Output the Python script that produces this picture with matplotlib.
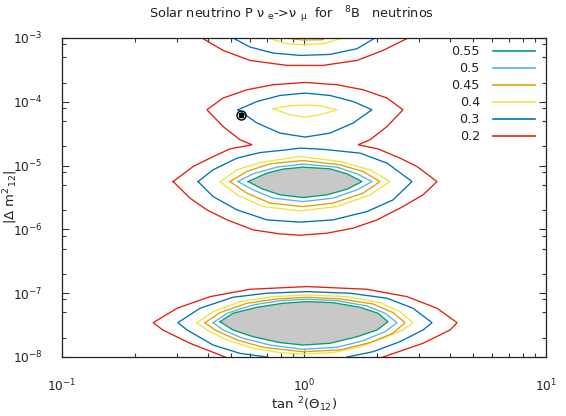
import matplotlib
matplotlib.use('Agg')
import matplotlib.pyplot as plt
from matplotlib.ticker import LogLocator, NullFormatter, FixedLocator, FixedFormatter

plt.rcParams['font.family'] = ['DejaVu Sans']
plt.rcParams['mathtext.fontset'] = 'dejavusans'

# ---------------- data ----------------
level_labels = ['0.55', '0.5', '0.45', '0.4', '0.3', '0.2']
level_colors = ['#009e73', '#56b4e9', '#e69f00', '#f0e442', '#0072b2', '#e51e10']

# P = 0.2 contours
red_top_x = [0.379, 0.463, 0.598, 0.851, 1.198, 1.656, 2.121, 2.691]
red_top_y = [1.0e-3, 6.39e-4, 4.45e-4, 3.72e-4, 3.72e-4, 4.45e-4, 6.39e-4, 1.0e-3]
red_mid_x = [0.288, 0.348, 0.409, 0.494, 0.610, 0.544, 0.463, 0.397, 0.463, 0.581,
             0.745, 1.01, 1.369, 1.754, 2.203, 2.565, 2.203, 1.874, 1.672, 2.022,
             2.493, 2.93, 3.545, 3.103, 2.493, 2.003, 1.594, 1.245, 0.963, 0.796,
             0.616, 0.481, 0.397, 0.338, 0.288]
red_mid_y = [5.62e-6, 9.67e-6, 1.31e-5, 1.83e-5, 2.12e-5, 2.54e-5, 4.10e-5, 7.50e-5,
             1.145e-4, 1.545e-4, 1.85e-4, 2.01e-4, 1.85e-4, 1.545e-4, 1.145e-4, 7.50e-5,
             4.10e-5, 2.54e-5, 2.12e-5, 1.83e-5, 1.31e-5, 9.67e-6, 5.62e-6, 3.48e-6,
             2.15e-6, 1.41e-6, 1.045e-6, 8.72e-7, 8.11e-7, 8.51e-7, 9.83e-7, 1.41e-6,
             2.02e-6, 3.09e-6, 5.62e-6]
red_low_x = [0.472, 0.338, 0.261, 0.238, 0.299, 0.409, 0.598, 1.029, 1.821, 2.665,
             3.545, 4.29, 4.01, 3.103, 2.121]
red_low_y = [1.0e-8, 1.64e-8, 2.65e-8, 3.45e-8, 5.81e-8, 8.83e-8, 1.153e-7, 1.27e-7,
             1.153e-7, 8.83e-8, 5.81e-8, 3.45e-8, 2.65e-8, 1.64e-8, 1.0e-8]

# P = 0.3 contours
blue_top_x = [0.509, 0.598, 0.745, 0.963, 1.280, 1.656, 1.965]
blue_top_y = [1.0e-3, 7.22e-4, 5.81e-4, 5.33e-4, 5.53e-4, 6.80e-4, 1.0e-3]
blue_up_x = [0.534, 0.640, 0.796, 1.01, 1.280, 1.594, 1.910, 1.594, 1.280, 1.01,
             0.796, 0.640, 0.534]
blue_up_y = [7.50e-5, 1.012e-4, 1.257e-4, 1.37e-4, 1.257e-4, 1.012e-4, 7.50e-5,
             4.64e-5, 3.23e-5, 2.80e-5, 3.23e-5, 4.64e-5, 7.50e-5]
blue_mid_x = [0.365, 0.421, 0.529, 0.658, 0.851, 0.963, 1.198, 1.703, 2.203, 2.795,
              2.332, 1.821, 1.318, 0.963, 0.703, 0.529, 0.421, 0.365]
blue_mid_y = [5.62e-6, 8.59e-6, 1.31e-5, 1.60e-5, 1.77e-5, 1.88e-5, 1.80e-5, 1.57e-5,
              1.094e-5, 5.62e-6, 2.90e-6, 1.905e-6, 1.41e-6, 1.30e-6, 1.41e-6, 2.02e-6,
              3.27e-6, 5.62e-6]
blue_low_x = [0.703, 0.544, 0.421, 0.329, 0.301, 0.372, 0.509, 0.703, 1.029, 1.549,
              2.203, 2.82, 3.381, 3.103, 2.493, 1.928, 1.506]
blue_low_y = [1.0e-8, 1.14e-8, 1.54e-8, 2.65e-8, 3.45e-8, 5.81e-8, 8.65e-8, 9.99e-8,
              1.058e-7, 9.99e-8, 8.34e-8, 5.81e-8, 3.45e-8, 2.65e-8, 1.74e-8, 1.21e-8,
              1.0e-8]

# P = 0.4 contours
yel_top_x = [0.710, 0.851, 0.991, 1.198, 1.449]
yel_top_y = [1.0e-3, 8.14e-4, 7.85e-4, 8.14e-4, 1.0e-3]
yel_up_x = [0.745, 0.875, 1.01, 1.164, 1.369, 1.164, 1.01, 0.875, 0.745]
yel_up_y = [7.78e-5, 8.67e-5, 8.89e-5, 8.67e-5, 7.50e-5, 6.26e-5, 5.77e-5, 6.26e-5, 7.78e-5]
yel_mid_x = [0.450, 0.529, 0.658, 0.963, 1.409, 1.874, 2.266, 1.874, 1.369, 0.963,
             0.677, 0.529, 0.450]
yel_mid_y = [5.62e-6, 8.59e-6, 1.117e-5, 1.39e-5, 1.16e-5, 8.59e-6, 5.62e-6, 3.48e-6,
             2.28e-6, 1.95e-6, 2.28e-6, 3.48e-6, 5.62e-6]
yel_low_x = [0.361, 0.421, 0.544, 0.745, 1.029, 1.506, 2.061, 2.493, 2.82, 2.565,
             2.121, 1.703, 1.318, 0.991, 0.796, 0.616, 0.481, 0.397, 0.361]
yel_low_y = [3.45e-8, 5.14e-8, 7.38e-8, 8.83e-8, 9.40e-8, 8.83e-8, 7.11e-8, 5.14e-8,
             3.45e-8, 2.65e-8, 1.965e-8, 1.45e-8, 1.17e-8, 1.11e-8, 1.17e-8, 1.37e-8,
             1.85e-8, 2.65e-8, 3.45e-8]

# P = 0.45 contours
ora_top_x = [0.835, 0.991, 1.198, 1.22]
ora_top_y = [1.0e-3, 9.3e-4, 9.4e-4, 1.0e-3]
ora_mid_x = [0.494, 0.581, 0.724, 0.991, 1.409, 1.754, 2.061, 1.754, 1.318, 0.991,
             0.724, 0.581, 0.494]
ora_mid_y = [5.62e-6, 8.08e-6, 1.067e-5, 1.20e-5, 1.028e-5, 8.08e-6, 5.62e-6, 3.70e-6,
             2.58e-6, 2.28e-6, 2.58e-6, 3.70e-6, 5.62e-6]
ora_low_x = [0.390, 0.450, 0.581, 0.773, 1.029, 1.409, 1.928, 2.332, 2.615, 2.332,
             1.874, 1.409, 0.991, 0.677, 0.529, 0.429, 0.390]
ora_low_y = [3.45e-8, 4.96e-8, 6.96e-8, 8.13e-8, 8.65e-8, 8.13e-8, 6.78e-8, 4.96e-8,
             3.45e-8, 2.36e-8, 1.68e-8, 1.29e-8, 1.21e-8, 1.42e-8, 1.85e-8, 2.65e-8,
             3.45e-8]

# P = 0.5 contours
sky_mid_x = [0.534, 0.616, 0.773, 0.991, 1.369, 1.656, 1.910, 1.656, 1.318, 0.991,
             0.745, 0.616, 0.534]
sky_mid_y = [5.62e-6, 7.43e-6, 9.46e-6, 1.055e-5, 9.46e-6, 7.43e-6, 5.62e-6, 4.17e-6,
             3.09e-6, 2.73e-6, 3.09e-6, 4.17e-6, 5.62e-6]
sky_low_x = [0.421, 0.481, 0.616, 0.796, 1.029, 1.369, 1.821, 2.161, 2.423, 2.161,
             1.754, 1.369, 0.991, 0.724, 0.560, 0.463, 0.421]
sky_low_y = [3.45e-8, 4.85e-8, 6.54e-8, 7.64e-8, 8.04e-8, 7.64e-8, 6.31e-8, 4.85e-8,
             3.45e-8, 2.49e-8, 1.80e-8, 1.42e-8, 1.32e-8, 1.54e-8, 1.965e-8, 2.65e-8,
             3.45e-8]

# P = 0.55 contours (inside shaded)
grn_mid_x = [0.587, 0.703, 0.819, 0.991, 1.280, 1.506, 1.737, 1.506, 1.245, 0.991,
             0.796, 0.677, 0.587]
grn_mid_y = [5.62e-6, 7.62e-6, 8.81e-6, 9.46e-6, 8.90e-6, 7.43e-6, 5.62e-6, 4.27e-6,
             3.48e-6, 3.16e-6, 3.48e-6, 4.27e-6, 5.62e-6]
grn_low_x = [0.450, 0.509, 0.640, 0.819, 1.029, 1.318, 1.703, 2.022, 2.224, 2.003,
             1.656, 1.280, 0.991, 0.796, 0.616, 0.509, 0.450]
grn_low_y = [3.58e-8, 4.85e-8, 6.02e-8, 6.96e-8, 7.38e-8, 7.11e-8, 6.02e-8, 4.85e-8,
             3.58e-8, 2.65e-8, 2.08e-8, 1.64e-8, 1.54e-8, 1.68e-8, 2.08e-8, 2.65e-8,
             3.58e-8]

best_fit_x = [0.55]
best_fit_y = [6.2e-5]

xtick_values = [0.1, 1, 10]
xtick_labels = [r'$\mathregular{10^{-1}}$', r'$\mathregular{10^{0}}$', r'$\mathregular{10^{1}}$']
ytick_values = [1e-8, 1e-7, 1e-6, 1e-5, 1e-4, 1e-3]
ytick_labels = [r'$\mathregular{10^{-8}}$', r'$\mathregular{10^{-7}}$', r'$\mathregular{10^{-6}}$',
                r'$\mathregular{10^{-5}}$', r'$\mathregular{10^{-4}}$', r'$\mathregular{10^{-3}}$']

contours = [
    ('0.2', red_top_x, red_top_y), ('0.2', red_mid_x, red_mid_y), ('0.2', red_low_x, red_low_y),
    ('0.3', blue_top_x, blue_top_y), ('0.3', blue_up_x, blue_up_y),
    ('0.3', blue_mid_x, blue_mid_y), ('0.3', blue_low_x, blue_low_y),
    ('0.4', yel_top_x, yel_top_y), ('0.4', yel_up_x, yel_up_y),
    ('0.4', yel_mid_x, yel_mid_y), ('0.4', yel_low_x, yel_low_y),
    ('0.45', ora_top_x, ora_top_y), ('0.45', ora_mid_x, ora_mid_y), ('0.45', ora_low_x, ora_low_y),
    ('0.5', sky_mid_x, sky_mid_y), ('0.5', sky_low_x, sky_low_y),
    ('0.55', grn_mid_x, grn_mid_y), ('0.55', grn_low_x, grn_low_y),
]
shaded = [(grn_mid_x, grn_mid_y), (grn_low_x, grn_low_y)]

# ---------------- figure ----------------
W, H = 566, 416
fig = plt.figure(figsize=(W / 100, H / 100), dpi=100)
ax = fig.add_axes([62 / W, 1 - 357 / H, 484 / W, 319 / H])
ax.set_xscale('log')
ax.set_yscale('log')
ax.set_xlim(0.1, 10)
ax.set_ylim(1e-8, 1e-3)

color_of = dict(zip(level_labels, level_colors))
for xs, ys in shaded:
    ax.fill(xs, ys, color='#c8c8c8', lw=0, zorder=1)
for lev, xs, ys in contours:
    ax.plot(xs, ys, color=color_of[lev], lw=0.95, zorder=2, solid_joinstyle='miter')

ax.plot(best_fit_x, best_fit_y, 'o', ms=6.5, mfc='none', mec='black', mew=1.0, zorder=3)
ax.plot(best_fit_x, best_fit_y, 's', ms=3, mfc='black', mec='black', zorder=3)

# ticks
ax.xaxis.set_major_locator(FixedLocator(xtick_values))
ax.xaxis.set_major_formatter(FixedFormatter(xtick_labels))
ax.xaxis.set_minor_locator(LogLocator(base=10, subs=[2, 3, 4, 5, 6, 7, 8, 9]))
ax.xaxis.set_minor_formatter(NullFormatter())
ax.yaxis.set_major_locator(FixedLocator(ytick_values))
ax.yaxis.set_major_formatter(FixedFormatter(ytick_labels))
ax.yaxis.set_minor_locator(LogLocator(base=10, subs=[2, 5, 8]))
ax.yaxis.set_minor_formatter(NullFormatter())
ax.tick_params(which='both', direction='in', top=True, right=True, color='#333333', width=0.8)
ax.tick_params(which='major', length=4.8)
ax.tick_params(which='minor', length=2.7)
ax.tick_params(axis='x', which='major', pad=15, labelsize=8.8, labelcolor='#222222')
ax.tick_params(axis='y', which='major', pad=14, labelsize=8.8, labelcolor='#222222')
for s in ax.spines.values():
    s.set_linewidth(0.9)
    s.set_color('#222222')

# legend (gnuplot style: right-aligned text, sample line on the right)
for i, (lab, col) in enumerate(zip(level_labels, level_colors)):
    yfrac = 0.959 - i * 0.0535
    ax.text(0.8636, yfrac, lab, transform=ax.transAxes, ha='right', va='center',
            fontsize=9.2, color='#222222')
    ax.plot([0.8905, 0.9773], [yfrac, yfrac], transform=ax.transAxes, color=col, lw=1.2)

fig.text(292 / W, 1 - 15 / H,
         r'Solar neutrino P ν $\mathregular{_{e}}$->ν $\mathregular{_{μ}}$  for   $\mathregular{^{8}}$B   neutrinos',
         ha='center', va='center', fontsize=9.3, color='#222222')
fig.text(304 / W, 1 - 405 / H, r'tan $\mathregular{^{2}}$(Θ$\mathregular{_{12}}$)',
         ha='center', va='center', fontsize=9.5, color='#222222')
fig.text(11 / W, 1 - 197 / H, r'|Δ m$\mathregular{{}^{2}{}_{12}}$|', rotation=90,
         ha='center', va='center', fontsize=9.5, color='#222222')

fig.savefig('out.png', dpi=100)
